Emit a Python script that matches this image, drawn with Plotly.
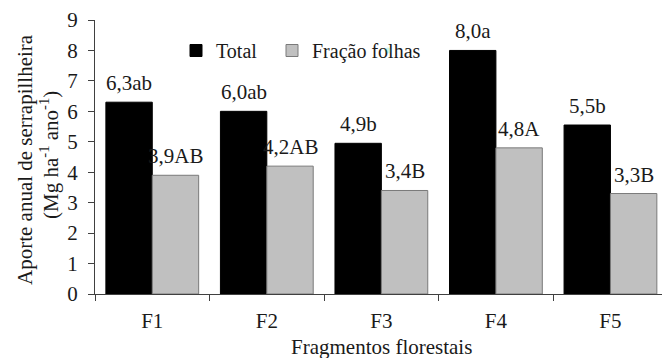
import plotly.graph_objects as go

categories = ["F1", "F2", "F3", "F4", "F5"]
total = [6.3, 6.0, 4.95, 8.0, 5.55]
folhas = [3.9, 4.2, 3.4, 4.8, 3.3]
total_labels = ["6,3ab", "6,0ab", "4,9b", "8,0a", "5,5b"]
folhas_labels = ["3,9AB", "4,2AB", "3,4B", "4,8A", "3,3B"]
y_ticks = [0, 1, 2, 3, 4, 5, 6, 7, 8, 9]

W, H = 662, 358
ML, MR, MT, MB = 95, 0, 20, 64
FONT = "Liberation Serif, Times New Roman, serif"
TXT = "#1a1a1a"
BARGAP = 0.19
XRANGE = [-0.5, 4.45]

plot_w = W - ML - MR
plot_h = H - MT - MB
cat_px = plot_w / (XRANGE[1] - XRANGE[0])
bar_px = cat_px * (1 - BARGAP) / 2

fig = go.Figure()
fig.add_trace(go.Bar(x=categories, y=total, name="Total",
                     marker=dict(color="#000000", line=dict(color="#000000", width=1))))
fig.add_trace(go.Bar(x=categories, y=folhas, name="Fração folhas",
                     marker=dict(color="#c0c0c0", line=dict(color="#7a7a7a", width=1))))
# spacer legend entry (invisible) so the last real entry is not clipped
fig.add_trace(go.Scatter(x=[None], y=[None], mode="markers", name=" ",
                         marker=dict(opacity=0), hoverinfo="skip"))

annotations = []
for c, v, t in zip(categories, total, total_labels):
    annotations.append(dict(x=c, y=v, text=t, xref="x", yref="y", showarrow=False,
                            xanchor="center", yanchor="bottom", xshift=-bar_px / 2, yshift=5,
                            font=dict(family=FONT, size=21, color=TXT)))
for c, v, t in zip(categories, folhas, folhas_labels):
    annotations.append(dict(x=c, y=v, text=t, xref="x", yref="y", showarrow=False,
                            xanchor="center", yanchor="bottom", xshift=bar_px / 2, yshift=5,
                            font=dict(family=FONT, size=21, color=TXT)))

annotations.append(dict(text="Fragmentos florestais", xref="paper", yref="paper",
                        x=(381.5 - ML) / plot_w, y=(294 - 347) / plot_h,
                        xanchor="center", yanchor="middle", showarrow=False,
                        font=dict(family=FONT, size=21, color=TXT)))
annotations.append(dict(text="Aporte anual de serrapillheira", xref="paper", yref="paper",
                        x=(25 - ML) / plot_w, y=(294 - 160) / plot_h, textangle=-90,
                        xanchor="center", yanchor="middle", showarrow=False,
                        font=dict(family=FONT, size=21, color=TXT)))
annotations.append(dict(text="(Mg ha<sup>-1</sup> ano<sup>-1</sup>)", xref="paper", yref="paper",
                        x=(49 - ML) / plot_w, y=(294 - 155) / plot_h, textangle=-90,
                        xanchor="center", yanchor="middle", showarrow=False,
                        font=dict(family=FONT, size=21, color=TXT)))

fig.update_layout(
    width=W, height=H,
    margin=dict(l=ML, r=MR, t=MT, b=MB),
    paper_bgcolor="white", plot_bgcolor="white",
    barmode="group", bargap=BARGAP, bargroupgap=0,
    font=dict(family=FONT, size=20, color=TXT),
    showlegend=True,
    legend=dict(orientation="h", x=(176 - ML) / plot_w, y=(294 - 50.5) / plot_h,
                xanchor="left", yanchor="middle", bgcolor="rgba(0,0,0,0)",
                font=dict(family=FONT, size=20, color=TXT), itemwidth=30,
                entrywidth=51, entrywidthmode="pixels"),
    annotations=annotations,
    xaxis=dict(type="category", range=XRANGE, showgrid=False, zeroline=False,
               showline=True, linecolor="#404040", linewidth=1,
               ticks="outside", ticklen=6, tickcolor="#404040", tickson="boundaries",
               ticklabelstandoff=8,
               tickfont=dict(family=FONT, size=21, color=TXT)),
    yaxis=dict(range=[0, 9], tickvals=y_ticks, showgrid=False, zeroline=False,
               showline=True, linecolor="#404040", linewidth=1,
               ticks="outside", ticklen=6, tickcolor="#404040",
               ticklabelstandoff=6,
               tickfont=dict(family=FONT, size=21, color=TXT)),
)

fig.write_html("out.html", config={"displayModeBar": False},
               post_script="document.body.style.margin='0';document.body.style.padding='0';")
